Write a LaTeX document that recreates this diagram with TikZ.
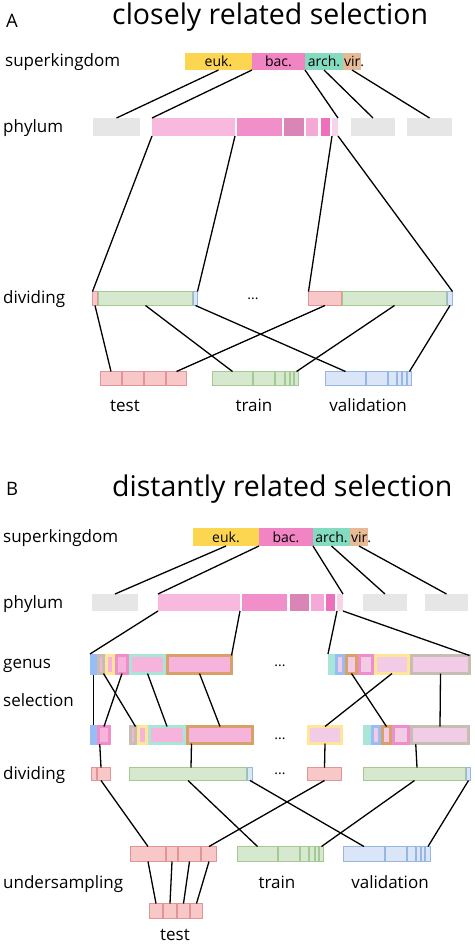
\documentclass[tikz,border=0pt]{standalone}
\usepackage{fontspec}
\setmainfont{Open Sans}
\usetikzlibrary{calc}
\definecolor{cEuk}{HTML}{FDD651}
\definecolor{cBac}{HTML}{F184C3}
\definecolor{cArch}{HTML}{84DCC0}
\definecolor{cVir}{HTML}{E7B995}
\definecolor{cP1}{HTML}{F7B9DE}
\definecolor{cP2}{HTML}{F08FCA}
\definecolor{cP3}{HTML}{D985B6}
\definecolor{cP4}{HTML}{F5A9D7}
\definecolor{cP5}{HTML}{EC70BC}
\definecolor{cP6}{HTML}{F6D4E9}
\definecolor{cGray}{HTML}{E6E6E6}
\definecolor{cTeF}{HTML}{F8C7C7}
\definecolor{cTeD}{HTML}{E39595}
\definecolor{cTrF}{HTML}{D6E9CF}
\definecolor{cTrD}{HTML}{A3C994}
\definecolor{cVaF}{HTML}{DAE6F8}
\definecolor{cVaD}{HTML}{97B6E4}
\definecolor{gPink}{HTML}{F6B4DC}
\definecolor{gPinkL}{HTML}{F2CBE6}
\definecolor{gPinkB}{HTML}{F08ECA}
\definecolor{gBlue}{HTML}{98BDF5}
\definecolor{gGray}{HTML}{C6BEB2}
\definecolor{gYel}{HTML}{FFE597}
\definecolor{gTeal}{HTML}{A9E6D8}
\definecolor{gOra}{HTML}{D9A067}
% name, x1, x2, y1, y2, fill, draw, line width
\newcommand\bx[8]{\node[inner sep=0pt, outer sep=0pt, draw=#7, fill=#6, line width=#8pt,
  minimum width={(#3-#2-#8)*1pt}, minimum height={(#5-#4-#8)*1pt}] (#1) at ({(#2+#3)/2},{(#4+#5)/2}) {};}
\tikzset{
  conn/.style={line width=1.3pt, black},
  rowlab/.style={anchor=base west, inner sep=0pt, font=\fontsize{17}{20}\selectfont},
  setlab/.style={anchor=base, inner sep=0pt, font=\fontsize{17}{20}\selectfont},
  title/.style={anchor=base west, inner sep=0pt, font=\fontsize{28.5}{32}\selectfont},
  panel/.style={anchor=base west, inner sep=0pt, font=\fontsize{18.5}{22}\selectfont},
  bartext/.style={inner sep=0pt, font=\fontsize{14}{16}\selectfont},
  dotstext/.style={anchor=base, inner sep=0pt, font=\fontsize{14}{16}\selectfont},
}
\begin{document}
\begin{tikzpicture}[x=1pt,y=-1pt]
\fill[white] (0,0) rectangle (474,944);
\useasboundingbox (0,0) rectangle (474,944);

%% ================= A =================
\node[panel] (pA) at (6,28) {A};
\node[title] (tA) at (112,25) {closely related selection};
\node[rowlab] (lA1) at (5,66.7) {superkingdom};
\node[rowlab] (lA2) at (3,133) {phylum};
\node[rowlab] (lA3) at (3,303) {dividing};

\bx{aeuk}{185}{252}{53}{70}{cEuk}{none}{0}
\bx{abac}{252}{305}{53}{70}{cBac}{none}{0}
\bx{aarch}{305}{343}{53}{70}{cArch}{none}{0}
\bx{avir}{343}{361}{53}{70}{cVir}{none}{0}
\node[bartext] (aeukt) at (aeuk) {euk.};
\node[bartext] (abact) at (abac) {bac.};
\node[bartext] (aarcht) at (aarch) {arch.};
\node[bartext] (avirt) at ([xshift=2pt]avir.center) {vir.};

\bx{agr1}{93}{140}{118}{136}{cGray}{none}{0}
\bx{ap1}{152}{235}{118}{136}{cP1}{none}{0}
\bx{ap2}{237}{282}{118}{136}{cP2}{none}{0}
\bx{ap3}{284}{304}{118}{136}{cP3}{none}{0}
\bx{ap4}{306}{318}{118}{136}{cP4}{none}{0}
\bx{ap5}{321}{330}{118}{136}{cP5}{none}{0}
\bx{ap6}{332}{338}{118}{136}{cP6}{none}{0}
\bx{agr2}{351}{395}{118}{136}{cGray}{none}{0}
\bx{agr3}{407}{452}{118}{136}{cGray}{none}{0}

\draw[conn] (aeuk.south) -- (agr1.north);
\draw[conn] (aeuk.south east) -- (ap1.north west);
\draw[conn] (aarch.south west) -- (ap6.north east);
\draw[conn] (aarch.south) -- (agr2.north);
\draw[conn] (avir.south) -- (agr3.north);

\bx{adr1}{92}{98}{291}{306}{cTeF}{cTeD}{1}
\bx{adg1}{98}{193}{291}{306}{cTrF}{cTrD}{1}
\bx{adb1}{193}{198}{291}{306}{cVaF}{cVaD}{1}
\bx{adr2}{308}{342}{291}{306}{cTeF}{cTeD}{1}
\bx{adg2}{342}{447}{291}{306}{cTrF}{cTrD}{1}
\bx{adb2}{447}{453}{291}{306}{cVaF}{cVaD}{1}
\node[dotstext] (adots) at (253,299.5) {...};

\draw[conn] (ap1.south west) -- (adr1.north west);
\draw[conn] (ap1.south east) -- (adb1.north east);
\draw[conn] (ap6.south west) -- (adr2.north west);
\draw[conn] (ap6.south east) -- (adb2.north east);

\bx{ate1}{100}{122}{371}{386}{cTeF}{cTeD}{1}
\bx{ate2}{122}{144}{371}{386}{cTeF}{cTeD}{1}
\bx{ate3}{144}{166}{371}{386}{cTeF}{cTeD}{1}
\bx{ate4}{166}{187}{371}{386}{cTeF}{cTeD}{1}
\bx{atr1}{212}{253}{371}{386}{cTrF}{cTrD}{1}
\bx{atr2}{253}{275}{371}{386}{cTrF}{cTrD}{1}
\bx{atr3}{275}{285}{371}{386}{cTrF}{cTrD}{1}
\bx{atr4}{285}{290}{371}{386}{cTrF}{cTrD}{1}
\bx{atr5}{290}{294}{371}{386}{cTrF}{cTrD}{1}
\bx{atr6}{294}{299}{371}{386}{cTrF}{cTrD}{1}
\bx{ava1}{325}{366}{371}{386}{cVaF}{cVaD}{1}
\bx{ava2}{366}{388}{371}{386}{cVaF}{cVaD}{1}
\bx{ava3}{388}{397}{371}{386}{cVaF}{cVaD}{1}
\bx{ava4}{397}{402}{371}{386}{cVaF}{cVaD}{1}
\bx{ava5}{402}{407}{371}{386}{cVaF}{cVaD}{1}
\bx{ava6}{407}{412}{371}{386}{cVaF}{cVaD}{1}

\draw[conn] (adr1.south) -- (ate1.north);
\draw[conn] (adg1.south) -- (atr1.north);
\draw[conn] (adb1.south) -- (ava1.north);
\draw[conn] (adr2.south) -- (ate4.north);
\draw[conn] (adg2.south) -- (atr6.north);
\draw[conn] (adb2.south) -- (ava6.north);

\node[setlab] (aTest) at (125,411.7) {test};
\node[setlab] (aTrain) at (254,411.7) {train};
\node[setlab] (aVal) at (368,411.7) {validation};

%% ================= B =================
\node[panel] (pB) at (6,495.7) {B};
\node[title] (tB) at (112,496) {distantly related selection};
\node[rowlab] (lB1) at (3,542.7) {superkingdom};
\node[rowlab] (lB2) at (3,608) {phylum};
\node[rowlab] (lB3) at (3,668) {genus};
\node[rowlab] (lB4) at (3,706.7) {selection};
\node[rowlab] (lB5) at (3,779) {dividing};
\node[rowlab] (lB6) at (3,888) {undersampling};

\bx{beuk}{193}{259}{528}{546}{cEuk}{none}{0}
\bx{bbac}{259}{313}{528}{546}{cBac}{none}{0}
\bx{barch}{313}{350}{528}{546}{cArch}{none}{0}
\bx{bvir}{350}{368}{528}{546}{cVir}{none}{0}
\node[bartext] (beukt) at (beuk) {euk.};
\node[bartext] (bbact) at (bbac) {bac.};
\node[bartext] (barcht) at (barch) {arch.};
\node[bartext] (bvirt) at ([xshift=2pt]bvir.center) {vir.};

\bx{bgr1}{92}{138}{594}{611}{cGray}{none}{0}
\bx{bp1}{158}{240}{594}{611}{cP1}{none}{0}
\bx{bp2}{242}{287}{594}{611}{cP2}{none}{0}
\bx{bp3}{290}{309}{594}{611}{cP3}{none}{0}
\bx{bp4}{311}{324}{594}{611}{cP4}{none}{0}
\bx{bp5}{326}{335}{594}{611}{cP5}{none}{0}
\bx{bp6}{337}{343}{594}{611}{cP6}{none}{0}
\bx{bgr2}{363}{407}{594}{611}{cGray}{none}{0}
\bx{bgr3}{425}{468}{594}{611}{cGray}{none}{0}

\draw[conn] (beuk.south) -- (bgr1.north);
\draw[conn] (beuk.south east) -- (bp1.north west);
\draw[conn] (barch.south west) -- (bp6.north east);
\draw[conn] (barch.south) -- (bgr2.north);
\draw[conn] (bvir.south) -- (bgr3.north);

% genus
\bx{bg1}{90}{97}{654}{675}{gBlue}{none}{0}
\bx{bg2}{97}{105}{654}{675}{gPink}{gGray}{3}
\bx{bg3}{105}{115}{654}{675}{gPink}{gYel}{3}
\bx{bg4}{115}{129}{654}{675}{gPink}{gPinkB}{3}
\bx{bg5}{129}{166}{654}{675}{gPink}{gTeal}{3}
\bx{bg6}{166}{233}{654}{675}{gPink}{gOra}{3}
\bx{bh1}{328}{335}{654}{675}{gTeal}{none}{0}
\bx{bh2}{335}{345}{654}{675}{gPinkL}{gBlue}{3}
\bx{bh3}{345}{358}{654}{675}{gPinkL}{gOra}{3}
\bx{bh4}{358}{374}{654}{675}{gPinkL}{gPinkB}{3}
\bx{bh5}{374}{410}{654}{675}{gPinkL}{gYel}{3}
\bx{bh6}{410}{471}{654}{675}{gPinkL}{gGray}{3}
\node[dotstext] (bdots1) at (280,666.5) {...};

\draw[conn] (bp1.south west) -- (bg1.north west);
\draw[conn] (bp1.south east) -- (bg6.north east);
\draw[conn] (bp6.south west) -- (bh1.north west);
\draw[conn] (bp6.south east) -- (bh6.north east);

% selection
\bx{bs1}{90}{97}{725}{745}{gBlue}{none}{0}
\bx{bs2}{97}{111}{725}{745}{gPink}{gPinkB}{3}
\bx{bs3}{129}{137}{725}{745}{gPink}{gGray}{3}
\bx{bs4}{137}{148}{725}{745}{gPink}{gYel}{3}
\bx{bs5}{148}{186}{725}{745}{gPink}{gTeal}{3}
\bx{bs6}{186}{254}{725}{745}{gPink}{gOra}{3}
\bx{bt1}{307}{343}{725}{745}{gPinkL}{gYel}{3}
\bx{bt2}{363}{371}{725}{745}{gTeal}{none}{0}
\bx{bt3}{371}{381}{725}{745}{gPinkL}{gBlue}{3}
\bx{bt4}{381}{392}{725}{745}{gPinkL}{gOra}{3}
\bx{bt5}{392}{410}{725}{745}{gPinkL}{gPinkB}{3}
\bx{bt6}{410}{470}{725}{745}{gPinkL}{gGray}{3}
\node[dotstext] (bdots2) at (280,739.5) {...};

\draw[conn] (bg1.south) -- (bs1.north);
\draw[conn] (bg2.south east) -- (bs3.north east);
\draw[conn] (bg4.south) -- (bs2.north);
\draw[conn] (bg5.south) -- (bs5.north);
\draw[conn] (bg6.south) -- (bs6.north);
\draw[conn] (bh3.south) -- (bt4.north);
\draw[conn] (bh5.south) -- (bt1.north);
\draw[conn] (bh6.south) -- (bt6.north);

% dividing
\bx{bdr1a}{91}{97}{767}{781}{cTeF}{cTeD}{1}
\bx{bdr1b}{97}{111}{767}{781}{cTeF}{cTeD}{1}
\bx{bdg1}{129}{247}{767}{781}{cTrF}{cTrD}{1}
\bx{bdb1}{247}{253}{767}{781}{cVaF}{cVaD}{1}
\bx{bdr2}{307}{342}{767}{781}{cTeF}{cTeD}{1}
\bx{bdg2}{363}{466}{767}{781}{cTrF}{cTrD}{1}
\bx{bdb2}{466}{471}{767}{781}{cVaF}{cVaD}{1}
\node[dotstext] (bdots3) at (280,774.5) {...};

\coordinate (sg1) at ($(bs1.south west)!0.5!(bs2.south east)$);
\coordinate (sg2) at ($(bs3.south west)!0.5!(bs6.south east)$);
\coordinate (sg3) at ($(bt2.south west)!0.5!(bt6.south east)$);
\coordinate (dg1t) at ($(bdr1a.north west)!0.5!(bdr1b.north east)$);
\coordinate (dg1b) at ($(bdr1a.south west)!0.5!(bdr1b.south east)$);
\coordinate (dg2t) at ($(bdg1.north west)!0.5!(bdb1.north east)$);
\coordinate (dg3t) at ($(bdg2.north west)!0.5!(bdb2.north east)$);
\draw[conn] (sg1) -- (dg1t);
\draw[conn] (sg2) -- (dg2t);
\draw[conn] (bt1.south) -- (bdr2.north);
\draw[conn] (sg3) -- (dg3t);

% sets
\bx{bte1}{130}{166}{846}{862}{cTeF}{cTeD}{1}
\bx{bte2}{166}{178}{846}{862}{cTeF}{cTeD}{1}
\bx{bte3}{178}{201}{846}{862}{cTeF}{cTeD}{1}
\bx{bte4}{201}{217}{846}{862}{cTeF}{cTeD}{1}
\bx{btr1}{237}{278}{846}{862}{cTrF}{cTrD}{1}
\bx{btr2}{278}{300}{846}{862}{cTrF}{cTrD}{1}
\bx{btr3}{300}{309}{846}{862}{cTrF}{cTrD}{1}
\bx{btr4}{309}{315}{846}{862}{cTrF}{cTrD}{1}
\bx{btr5}{315}{319}{846}{862}{cTrF}{cTrD}{1}
\bx{btr6}{319}{324}{846}{862}{cTrF}{cTrD}{1}
\bx{bva1}{343}{385}{846}{862}{cVaF}{cVaD}{1}
\bx{bva2}{385}{407}{846}{862}{cVaF}{cVaD}{1}
\bx{bva3}{407}{416}{846}{862}{cVaF}{cVaD}{1}
\bx{bva4}{416}{421}{846}{862}{cVaF}{cVaD}{1}
\bx{bva5}{421}{425}{846}{862}{cVaF}{cVaD}{1}
\bx{bva6}{425}{431}{846}{862}{cVaF}{cVaD}{1}

\draw[conn] (dg1b) -- (bte1.north);
\draw[conn] (bdg1.south) -- (btr1.north);
\draw[conn] (bdb1.south) -- (bva1.north);
\draw[conn] (bdr2.south) -- (bte4.north);
\draw[conn] (bdg2.south) -- (btr6.north);
\draw[conn] (bdb2.south) -- (bva6.north);

% undersampled test
\bx{bu1}{149}{163}{903}{919}{cTeF}{cTeD}{1}
\bx{bu2}{163}{177}{903}{919}{cTeF}{cTeD}{1}
\bx{bu3}{177}{190}{903}{919}{cTeF}{cTeD}{1}
\bx{bu4}{190}{203}{903}{919}{cTeF}{cTeD}{1}
\draw[conn] (bte1.south) -- (bu1.north);
\draw[conn] (bte2.south) -- (bu2.north);
\draw[conn] (bte3.south) -- (bu3.north);
\draw[conn] (bte4.south) -- (bu4.north);

\node[setlab] (bTrain) at (277,888) {train};
\node[setlab] (bVal) at (390,888) {validation};
\node[setlab] (bTest) at (175,940.7) {test};
\end{tikzpicture}
\end{document}
